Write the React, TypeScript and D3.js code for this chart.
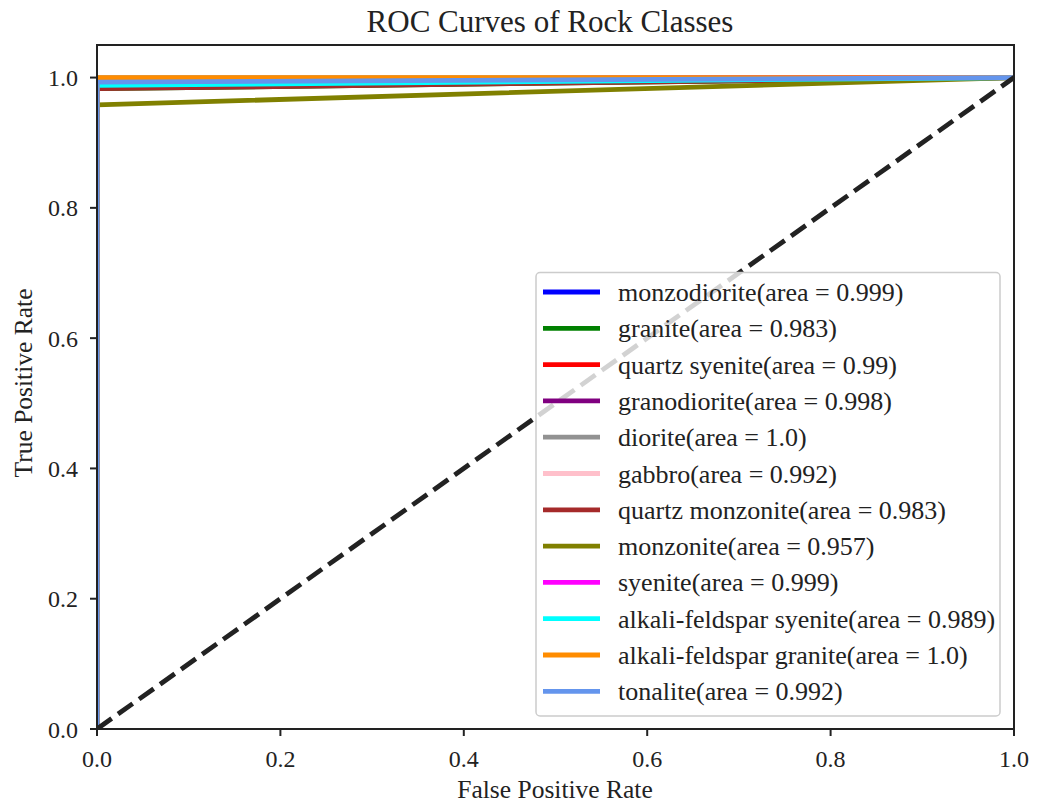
import React from "react";
import * as d3 from "d3";

const classNames = [
  "monzodiorite", "granite", "quartz syenite", "granodiorite", "diorite", "gabbro",
  "quartz monzonite", "monzonite", "syenite", "alkali-feldspar syenite",
  "alkali-feldspar granite", "tonalite",
];
const aucValues = ["0.999", "0.983", "0.99", "0.998", "1.0", "0.992", "0.983", "0.957", "0.999", "0.989", "1.0", "0.992"];
// true positive rate reached at fpr = 0
const tprAtZero = [0.998, 0.983, 0.99, 0.997, 1.0, 0.992, 0.983, 0.958, 0.998, 0.988, 1.0, 0.993];
const colors = [
  "#0000ff", "#008000", "#ff0000", "#800080", "#929292", "#ffc0cb",
  "#a52a2a", "#808000", "#ff00ff", "#00ffff", "#ff8c00", "#6495ed",
];
const xTicks = [0, 0.2, 0.4, 0.6, 0.8, 1.0];
const yTicks = [0, 0.2, 0.4, 0.6, 0.8, 1.0];

const W = 1037, H = 806;
const M = { left: 97, right: 1014, top: 45, bottom: 729 };
const FONT = "'Liberation Serif', 'Times New Roman', serif";
const INK = "#222222";

export default function App() {
  const x = d3.scaleLinear().domain([0, 1]).range([M.left, M.right]);
  const y = d3.scaleLinear().domain([0, 1.05]).range([M.bottom, M.top]);
  const line = d3.line<[number, number]>().x((d) => x(d[0])).y((d) => y(d[1]));

  const curves = classNames.map((_, i) => [[0, 0], [0, tprAtZero[i]], [1, 1]] as [number, number][]);

  const legX = 536, legY = 272.5, legW = 464, legH = 443.5;
  const rowStart = 292, rowGap = 36.3;

  return (
    <div style={{ position: "absolute", left: 0, top: 0 }}>
      <svg width={W} height={H} style={{ display: "block", background: "#fff" }}>
        <defs>
          <clipPath id="plot">
            <rect x={M.left} y={M.top} width={M.right - M.left} height={M.bottom - M.top} />
          </clipPath>
        </defs>
        <text x={550} y={32} textAnchor="middle" fontFamily={FONT} fontSize={31} fill={INK}>
          ROC Curves of Rock Classes
        </text>
        <g clipPath="url(#plot)">
          {curves.map((c, i) => (
            <path key={i} d={line(c) || ""} fill="none" stroke={colors[i]} strokeWidth={4.8} />
          ))}
          <path d={line([[0, 0], [1, 1]]) || ""} fill="none" stroke={INK} strokeWidth={4.8} strokeDasharray="18 7.8" />
        </g>
        {/* spines */}
        <rect x={M.left} y={M.top} width={M.right - M.left} height={M.bottom - M.top} fill="none" stroke={INK} strokeWidth={2} />
        {/* x ticks */}
        {xTicks.map((t) => (
          <g key={"x" + t}>
            <line x1={x(t)} x2={x(t)} y1={M.bottom} y2={M.bottom + 7} stroke={INK} strokeWidth={2} />
            <text x={x(t)} y={767} textAnchor="middle" fontFamily={FONT} fontSize={24} fill={INK}>
              {t.toFixed(1)}
            </text>
          </g>
        ))}
        {yTicks.map((t) => (
          <g key={"y" + t}>
            <line x1={M.left - 7} x2={M.left} y1={y(t)} y2={y(t)} stroke={INK} strokeWidth={2} />
            <text x={78} y={y(t) + 8.5} textAnchor="end" fontFamily={FONT} fontSize={24} fill={INK}>
              {t.toFixed(1)}
            </text>
          </g>
        ))}
        <text x={555} y={798} textAnchor="middle" fontFamily={FONT} fontSize={25.5} fill={INK}>
          False Positive Rate
        </text>
        <text transform={`translate(32, 383) rotate(-90)`} textAnchor="middle" fontFamily={FONT} fontSize={25.5} fill={INK}>
          True Positive Rate
        </text>
        {/* legend */}
        <rect x={legX} y={legY} width={legW} height={legH} rx={4} fill="#ffffff" fillOpacity={0.8} stroke="#cccccc" strokeWidth={1.5} />
        {classNames.map((n, i) => {
          const cy = rowStart + i * rowGap;
          return (
            <g key={n}>
              <line x1={543} x2={600} y1={cy} y2={cy} stroke={colors[i]} strokeWidth={4.8} />
              <text x={618} y={cy + 9} fontFamily={FONT} fontSize={26} fill={INK}>
                {`${n}(area = ${aucValues[i]})`}
              </text>
            </g>
          );
        })}
      </svg>
    </div>
  );
}
